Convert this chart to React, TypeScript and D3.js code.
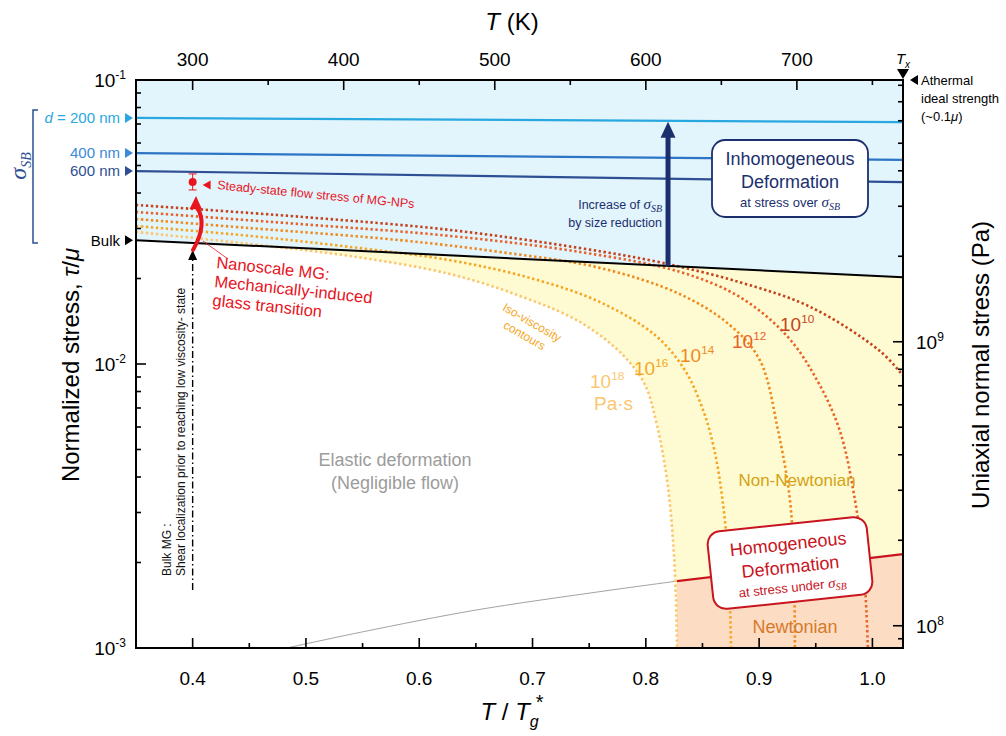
import React from "react";
import * as d3 from "d3";

const FONT = "'Liberation Sans', Arial, Helvetica, sans-serif";
const SERIF = "'Liberation Serif', 'DejaVu Serif', serif";

const PLOT = { left: 136, right: 903, top: 80, bottom: 648 };

type P = [number, number];

// axes
const xDomain: [number, number] = [0.35, 1.027];
const yDomain: [number, number] = [1e-3, 1e-1];
const TG_STAR = 750; // K at T/Tg* = 1
const PA_PER_UNIT = 8.35e10; // uniaxial stress (Pa) per unit tau/mu

const xMajorTicks = [0.4, 0.5, 0.6, 0.7, 0.8, 0.9, 1.0];
const xMinorTicks = [0.45, 0.55, 0.65, 0.75, 0.85, 0.95];
const topMajorTicks = [300, 400, 500, 600, 700];
const topMinorTicks = [350, 450, 550, 650, 750];
const leftLabelExps = [-1, -2, -3];
const rightLabelExps = [8, 9];

// boundary lines (T/Tg*, tau/mu)
const bulkLine: P[] = [[0.35, 0.0273], [1.027, 0.0202]];
const sb200: P[] = [[0.35, 0.0735], [1.027, 0.0711]];
const sb400: P[] = [[0.35, 0.0553], [1.027, 0.0523]];
const sb600: P[] = [[0.35, 0.0478], [1.027, 0.0437]];
const homogLine: P[] = [[0.8275, 0.00172], [1.027, 0.00214]];
const grayLine: P[] = [[0.483, 0.001], [0.55, 0.00114], [0.65, 0.00136], [0.75, 0.00156], [0.8275, 0.00172]];

// iso-viscosity contours
const visc10: P[] = [[0.35, 0.0363], [0.4947, 0.033], [0.6271, 0.02965], [0.7419, 0.0256], [0.8125, 0.0228], [0.8831, 0.0194], [0.945, 0.0159], [1.0067, 0.0111], [1.027, 0.0091]];
const visc12: P[] = [[0.35, 0.0343], [0.4947, 0.0311], [0.6271, 0.02825], [0.7419, 0.0248], [0.8301, 0.0211], [0.8831, 0.0172], [0.925, 0.0125], [0.951, 0.00879], [0.971, 0.00586], [0.9846, 0.00332], [0.9925, 0.00188], [0.996, 0.001]];
const visc14: P[] = [[0.35, 0.0324], [0.4506, 0.0301], [0.583, 0.0273], [0.6712, 0.0248], [0.7595, 0.0218], [0.8301, 0.01762], [0.8743, 0.0137], [0.9007, 0.0103], [0.9166, 0.00586], [0.9272, 0.00332], [0.9307, 0.00188], [0.9316, 0.001]];
const visc16: P[] = [[0.35, 0.0306], [0.4506, 0.02825], [0.5389, 0.02583], [0.6271, 0.0232], [0.6977, 0.0201], [0.7595, 0.01652], [0.8085, 0.0126], [0.8345, 0.0095], [0.8505, 0.00689], [0.8605, 0.00498], [0.8677, 0.00332], [0.8727, 0.00204], [0.8752, 0.001]];
const visc18: P[] = [[0.35, 0.0292], [0.4506, 0.02645], [0.5389, 0.024], [0.6271, 0.02074], [0.6889, 0.01736], [0.7419, 0.01406], [0.7798, 0.01076], [0.7993, 0.00844], [0.8098, 0.0061], [0.8187, 0.00391], [0.824, 0.0024], [0.8266, 0.00148], [0.8275, 0.001]];

const viscColors = ["#c4431d", "#e8622a", "#f08a1e", "#f6a623", "#fcc670"];

// MG-NP steady-state point
const npPoint: P = [0.4, 0.0437];
const npErr: [number, number] = [0.041, 0.0467];

// annotation arrows (data coordinates)
const arrowX = 0.8196;
const bulkArrow: P[] = [[0.4, 0.0016], [0.4, 0.0252]];
const redArcStart: P = [0.4003, 0.0252];
const redArcCtrl: P = [0.4135, 0.0311];
const redArcEnd: P = [0.4038, 0.0357];
const redArcTip: P = [0.403, 0.03904];

function interp(line: P[], xv: number) {
  const [a, b] = line;
  const t = (xv - a[0]) / (b[0] - a[0]);
  return Math.exp(Math.log(a[1]) + t * (Math.log(b[1]) - Math.log(a[1])));
}

function Sup({ base, sup, x, y, size, anchor = "start", fill = "#000", supSize }: any) {
  return (
    <text x={x} y={y} fontSize={size} textAnchor={anchor} fill={fill} fontFamily={FONT}>
      {base}
      <tspan dy={-size * 0.42} fontSize={supSize || size * 0.62}>{sup}</tspan>
    </text>
  );
}

export default function App() {
  const x = d3.scaleLinear().domain(xDomain).range([PLOT.left, PLOT.right]);
  const y = d3.scaleLog().domain(yDomain).range([PLOT.bottom, PLOT.top]);
  const xTop = d3.scaleLinear().domain([xDomain[0] * TG_STAR, xDomain[1] * TG_STAR]).range([PLOT.left, PLOT.right]);
  const yRight = d3.scaleLog().domain([yDomain[0] * PA_PER_UNIT, yDomain[1] * PA_PER_UNIT]).range([PLOT.bottom, PLOT.top]);

  const line = d3.line<P>().x((d) => x(d[0])).y((d) => y(d[1]));
  const curve = d3.line<P>().x((d) => x(d[0])).y((d) => y(d[1])).curve(d3.curveCatmullRom.alpha(0.5));

  const contours = [visc10, visc12, visc14, visc16, visc18];

  // fills
  const yellowPath =
    curve(visc18) +
    `L${x(xDomain[1])},${y(yDomain[0])}L${x(xDomain[1])},${y(yDomain[1])}L${x(xDomain[0])},${y(yDomain[1])}Z`;
  const bluePath = `M${x(xDomain[0])},${y(yDomain[1])}L${x(xDomain[1])},${y(yDomain[1])}L${x(bulkLine[1][0])},${y(bulkLine[1][1])}L${x(bulkLine[0][0])},${y(bulkLine[0][1])}Z`;
  const peachPath = line(homogLine) + `L${x(xDomain[1])},${y(yDomain[0])}L${x(homogLine[0][0])},${y(yDomain[0])}Z`;

  // ticks
  const leftMinor: number[] = [];
  for (const e of [-3, -2]) for (let m = 2; m <= 9; m++) leftMinor.push(m * Math.pow(10, e));
  const rightTicks: number[] = [];
  const rd = yRight.domain();
  for (const e of [7, 8, 9]) for (let m = 1; m <= 9; m++) {
    const v = m * Math.pow(10, e);
    if (v >= rd[0] && v <= rd[1]) rightTicks.push(v);
  }

  const L = PLOT.left, R = PLOT.right, T = PLOT.top, B = PLOT.bottom;
  const navy = "#1b2f6e";
  const red = "#e8141e";

  const arrowBottom = y(interp(bulkLine, arrowX));
  const arrowTop = y(interp(sb200, arrowX));
  const ax = x(arrowX);

  const arcPath = d3.path();
  arcPath.moveTo(x(redArcStart[0]), y(redArcStart[1]));
  arcPath.quadraticCurveTo(x(redArcCtrl[0]), y(redArcCtrl[1]), x(redArcEnd[0]), y(redArcEnd[1]));
  const tipX = x(redArcTip[0]), tipY = y(redArcTip[1]);

  const bx = x(bulkArrow[1][0]), btop = y(bulkArrow[1][1]);

  return (
    <svg width={1006} height={736} style={{ position: "absolute", left: 0, top: 0, background: "#fff" }} fontFamily={FONT}>
      <defs>
        <clipPath id="plotClip">
          <rect x={L} y={T} width={R - L} height={B - T} />
        </clipPath>
      </defs>

      <g clipPath="url(#plotClip)">
        <path d={yellowPath} fill="#fefbd2" />
        <path d={bluePath} fill="#e2f4fc" />
        <path d={peachPath} fill="#fcdcc2" />
        <path d={curve(grayLine) || ""} fill="none" stroke="#8a8a8a" strokeWidth={0.8} />
        <path d={line(homogLine) || ""} fill="none" stroke="#c8141e" strokeWidth={2.2} />
        <path d={line(sb200) || ""} fill="none" stroke="#29a8e0" strokeWidth={2.2} />
        <path d={line(sb400) || ""} fill="none" stroke="#2c74c4" strokeWidth={2.2} />
        <path d={line(sb600) || ""} fill="none" stroke="#2e4f93" strokeWidth={2.2} />
        {contours.map((c, i) => (
          <path key={i} d={curve(c) || ""} fill="none" stroke={viscColors[i]} strokeWidth={2.6} strokeDasharray="2.4 2.6" />
        ))}
        <path d={line(bulkLine) || ""} fill="none" stroke="#000" strokeWidth={2} />
      </g>

      {/* contour labels */}
      <Sup base="10" sup="10" x={780} y={331} size={19} fill={viscColors[0]} />
      <Sup base="10" sup="12" x={732} y={348} size={19} fill={viscColors[1]} />
      <Sup base="10" sup="14" x={680} y={362} size={19} fill={viscColors[2]} />
      <Sup base="10" sup="16" x={634} y={375} size={19} fill={viscColors[3]} />
      <Sup base="10" sup="18" x={590} y={388} size={19} fill={viscColors[4]} />
      <text x={594} y={410} fontSize={19} fill={viscColors[4]}>Pa·s</text>
      <g transform="translate(530,326) rotate(30)" fill="#f6a623" fontSize={12} textAnchor="middle">
        <text x={0} y={0}>Iso-viscosity</text>
        <text x={0} y={15}>contours</text>
      </g>

      {/* region labels */}
      <text x={395} y={466} fontSize={18} fill="#9c9c9c" textAnchor="middle">Elastic deformation</text>
      <text x={395} y={489} fontSize={18} fill="#9c9c9c" textAnchor="middle">(Negligible flow)</text>
      <text x={797} y={486} fontSize={17} fill="#d4a214" textAnchor="middle">Non-Newtonian</text>
      <text x={795} y={633} fontSize={18} fill="#d47a2c" textAnchor="middle">Newtonian</text>

      {/* size reduction arrow */}
      <line x1={ax} x2={ax} y1={arrowBottom} y2={arrowTop + 14} stroke={navy} strokeWidth={5} />
      <path d={`M${ax},${arrowTop + 1}L${ax - 7.5},${arrowTop + 17}L${ax + 7.5},${arrowTop + 17}Z`} fill={navy} />
      <text x={662} y={209} fontSize={12.5} fill={navy} textAnchor="end">
        Increase of <tspan fontFamily={SERIF} fontStyle="italic" fontSize={15}>σ</tspan>
        <tspan fontFamily={SERIF} fontStyle="italic" fontSize={10} dy={3}>SB</tspan>
      </text>
      <text x={662} y={227} fontSize={12.5} fill={navy} textAnchor="end">by size reduction</text>

      {/* inhomogeneous box */}
      <rect x={712} y={140} width={156} height={77} rx={13} fill="#fff" stroke={navy} strokeWidth={1.8} />
      <text x={790} y={165} fontSize={18} fill={navy} textAnchor="middle">Inhomogeneous</text>
      <text x={790} y={188} fontSize={18} fill={navy} textAnchor="middle">Deformation</text>
      <text x={790} y={207} fontSize={13} fill={navy} textAnchor="middle">
        at stress over <tspan fontFamily={SERIF} fontStyle="italic" fontSize={15}>σ</tspan>
        <tspan fontFamily={SERIF} fontStyle="italic" fontSize={10} dy={3}>SB</tspan>
      </text>

      {/* homogeneous box */}
      <g transform="translate(790,563) rotate(-6)">
        <rect x={-80} y={-39} width={160} height={78} rx={13} fill="#fff" stroke="#c8141e" strokeWidth={2} />
        <text x={0} y={-13} fontSize={18} fill="#c8141e" textAnchor="middle">Homogeneous</text>
        <text x={0} y={10} fontSize={18} fill="#c8141e" textAnchor="middle">Deformation</text>
        <text x={0} y={29} fontSize={13} fill="#c8141e" textAnchor="middle">
          at stress under <tspan fontFamily={SERIF} fontStyle="italic" fontSize={15}>σ</tspan>
          <tspan fontFamily={SERIF} fontStyle="italic" fontSize={10} dy={3}>SB</tspan>
        </text>
      </g>

      {/* bulk MG dash-dot arrow */}
      <line x1={x(bulkArrow[0][0])} x2={bx} y1={y(bulkArrow[0][1])} y2={btop + 8} stroke="#000" strokeWidth={1.4} strokeDasharray="7 3 1.5 3" />
      <path d={`M${bx},${btop}L${bx - 4.5},${btop + 10}L${bx + 4.5},${btop + 10}Z`} fill="#000" />
      <g transform={`translate(171,576) rotate(-90)`} fontSize={12} fill="#111">
        <text x={0} y={0}>Bulk MG :</text>
        <text x={0} y={13.5}>Shear localization prior to reaching low viscosity- state</text>
      </g>

      {/* red curved arrow (mechanically-induced glass transition) */}
      <path d={arcPath.toString()} fill="none" stroke={red} strokeWidth={4} strokeLinecap="round" />
      <path d={`M${tipX},${tipY}L${tipX - 6.5},${tipY + 13}L${tipX + 6},${tipY + 13.5}Z`} fill={red} />
      <line x1={203} y1={241} x2={228} y2={259} stroke={red} strokeWidth={0.8} />
      <g transform="translate(216,268) rotate(6)" fill={red} fontSize={16.5}>
        <text x={0} y={0}>Nanoscale MG:</text>
        <text x={0} y={19}>Mechanically-induced</text>
        <text x={0} y={38}>glass transition</text>
      </g>

      {/* MG-NP steady-state point */}
      <line x1={x(npPoint[0])} x2={x(npPoint[0])} y1={y(npErr[0])} y2={y(npErr[1])} stroke={red} strokeWidth={1} />
      <line x1={x(npPoint[0]) - 4} x2={x(npPoint[0]) + 4} y1={y(npErr[0])} y2={y(npErr[0])} stroke={red} strokeWidth={1} />
      <line x1={x(npPoint[0]) - 4} x2={x(npPoint[0]) + 4} y1={y(npErr[1])} y2={y(npErr[1])} stroke={red} strokeWidth={1} />
      <circle cx={x(npPoint[0])} cy={y(npPoint[1])} r={4} fill={red} />
      <path d={`M${x(npPoint[0]) + 10},${y(npPoint[1]) + 3}L${x(npPoint[0]) + 18},${y(npPoint[1]) - 1.5}L${x(npPoint[0]) + 18},${y(npPoint[1]) + 7.5}Z`} fill={red} />
      <g transform={`translate(217,${y(npPoint[1]) + 7}) rotate(5.5)`}>
        <text x={0} y={0} fontSize={12.5} fill={red}>Steady-state flow stress of MG-NPs</text>
      </g>

      {/* frame */}
      <rect x={L} y={T} width={R - L} height={B - T} fill="none" stroke="#000" strokeWidth={2} />

      {/* bottom ticks */}
      {xMajorTicks.map((t) => (
        <g key={"xb" + t}>
          <line x1={x(t)} x2={x(t)} y1={B} y2={B - 10} stroke="#000" strokeWidth={1.6} />
          <text x={x(t)} y={B + 37} fontSize={19} textAnchor="middle">{t.toFixed(1)}</text>
        </g>
      ))}
      {xMinorTicks.map((t) => (
        <line key={"xm" + t} x1={x(t)} x2={x(t)} y1={B} y2={B - 5} stroke="#000" strokeWidth={1.6} />
      ))}
      {/* top ticks */}
      {topMajorTicks.map((t) => (
        <g key={"xt" + t}>
          <line x1={xTop(t)} x2={xTop(t)} y1={T} y2={T + 10} stroke="#000" strokeWidth={1.6} />
          <text x={xTop(t)} y={T - 14} fontSize={19} textAnchor="middle">{t}</text>
        </g>
      ))}
      {topMinorTicks.map((t) => (
        <line key={"xtm" + t} x1={xTop(t)} x2={xTop(t)} y1={T} y2={T + 5} stroke="#000" strokeWidth={1.6} />
      ))}
      {/* left ticks */}
      {leftMinor.map((v) => (
        <line key={"yl" + v} x1={L} x2={L + 5} y1={y(v)} y2={y(v)} stroke="#000" strokeWidth={1.6} />
      ))}
      <line x1={L} x2={L + 10} y1={y(1e-2)} y2={y(1e-2)} stroke="#000" strokeWidth={1.6} />
      {leftLabelExps.map((e) => (
        <Sup key={"yll" + e} base="10" sup={"-" + Math.abs(e)} x={126} y={y(Math.pow(10, e)) + 7} size={19} anchor="end" supSize={12} />
      ))}
      {/* right ticks */}
      {rightTicks.map((v) => {
        const major = Math.abs(Math.log10(v) - Math.round(Math.log10(v))) < 1e-9;
        return <line key={"yr" + v} x1={R} x2={R - (major ? 10 : 5)} y1={yRight(v)} y2={yRight(v)} stroke="#000" strokeWidth={1.6} />;
      })}
      {rightLabelExps.map((e) => (
        <Sup key={"yrl" + e} base="10" sup={String(e)} x={916} y={yRight(Math.pow(10, e)) + 7} size={19} supSize={12} />
      ))}

      {/* axis titles */}
      <text x={512} y={30} fontSize={24} textAnchor="middle">
        <tspan fontStyle="italic">T</tspan> (K)
      </text>
      <text x={512} y={720} fontSize={24} textAnchor="middle">
        <tspan fontStyle="italic">T</tspan> / <tspan fontStyle="italic">T</tspan>
        <tspan fontStyle="italic" fontSize={16} dy={7}>g</tspan>
        <tspan fontSize={20} dx={-3} dy={-18}>*</tspan>
      </text>
      <text transform="translate(79,365) rotate(-90)" fontSize={24} textAnchor="middle">
        Normalized stress, <tspan fontStyle="italic">τ</tspan>/<tspan fontStyle="italic">μ</tspan>
      </text>
      <text transform="translate(989,365) rotate(-90)" fontSize={24} textAnchor="middle">
        Uniaxial normal stress (Pa)
      </text>

      {/* T_x marker & athermal strength */}
      <path d={`M${R - 6},${T - 11}L${R + 6},${T - 11}L${R},${T - 1}Z`} fill="#000" />
      <text x={R} y={T - 16} fontSize={15} textAnchor="middle" fontStyle="italic">
        T<tspan fontSize={10} dy={4}>x</tspan>
      </text>
      <path d={`M${R + 7},${T}L${R + 15},${T - 5}L${R + 15},${T + 5}Z`} fill="#000" />
      <text x={R + 18} y={T + 5} fontSize={13}>Athermal</text>
      <text x={R + 18} y={T + 23} fontSize={13}>ideal strength</text>
      <text x={R + 18} y={T + 41} fontSize={13}>
        (~0.1<tspan fontStyle="italic">μ</tspan>)
      </text>

      {/* sigma_SB labels */}
      <text x={120} y={y(sb200[0][1]) + 5} fontSize={15} fill="#29a8e0" textAnchor="end">
        <tspan fontStyle="italic">d</tspan> = 200 nm
      </text>
      <text x={120} y={y(sb400[0][1]) + 5} fontSize={15} fill="#3a8ad6" textAnchor="end">400 nm</text>
      <text x={120} y={y(sb600[0][1]) + 5} fontSize={15} fill="#2e4f93" textAnchor="end">600 nm</text>
      <text x={120} y={y(bulkLine[0][1]) + 6} fontSize={15} fill="#000" textAnchor="end">Bulk</text>
      {[
        [sb200[0][1], "#29a8e0"],
        [sb400[0][1], "#3a8ad6"],
        [sb600[0][1], "#2e4f93"],
        [bulkLine[0][1], "#000"],
      ].map(([v, c]: any, i) => (
        <path key={"tri" + i} d={`M${L - 3},${y(v)}L${L - 11},${y(v) - 5}L${L - 11},${y(v) + 5}Z`} fill={c} />
      ))}
      <path d={`M38,110L33,110L33,243L38,243`} fill="none" stroke="#2e4f93" strokeWidth={1.5} />
      <text transform="translate(26,166) rotate(-90)" fill="#2e4f93" fontFamily={SERIF} fontStyle="italic" fontSize={24} textAnchor="middle">
        σ<tspan fontSize={14} dy={5}>SB</tspan>
      </text>
    </svg>
  );
}
